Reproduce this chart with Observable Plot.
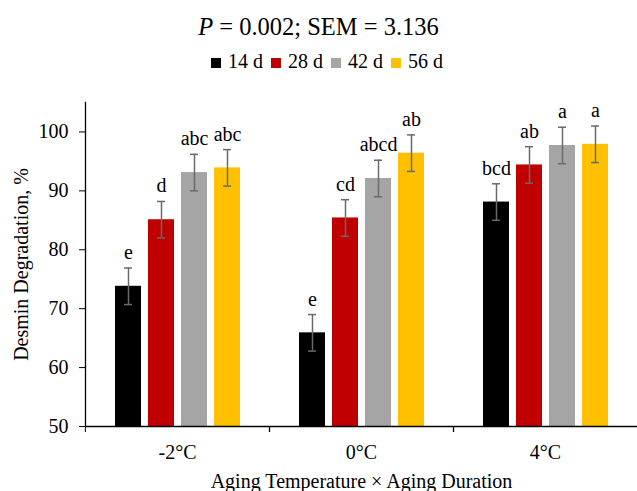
<!DOCTYPE html>
<html>
<head>
<meta charset="utf-8">
<script src="https://cdn.jsdelivr.net/npm/d3@7"></script>
<script src="https://cdn.jsdelivr.net/npm/@observablehq/plot@0.6"></script>
<style>
  body { margin: 0; background: #fff; }
  #wrap { position: relative; width: 637px; height: 491px; font-family: "Liberation Serif", "Times New Roman", serif; color: #000; }
  #title { position: absolute; left: 0; top: 14.5px; width: 637px; text-align: center; font-size: 24.5px; line-height: 1; white-space: nowrap; }
  #legend { position: absolute; left: 211px; top: 51px; font-size: 20px; line-height: 1; white-space: nowrap; }
  #legend .sw { display: inline-block; width: 10px; height: 10px; margin-right: 7px; vertical-align: baseline; }
  #legend .it { margin-right: 8px; }
  #chart { position: absolute; left: 0; top: 0; }
  #chart svg, #chart svg text { font-family: "Liberation Serif", "Times New Roman", serif !important; }
</style>
</head>
<body>
<div id="wrap">
  <div id="chart"></div>
  <div id="title"><i>P</i> = 0.002; SEM = 3.136</div>
  <div id="legend"></div>
</div>
<script>
// ---- data ----
const temperatures = ["-2°C", "0°C", "4°C"];
const durations = ["14 d", "28 d", "42 d", "56 d"];
const colors = ["#000000", "#C00000", "#A5A5A5", "#FFC000"];
const values14 = [73.8, 65.9, 88.1];
const values28 = [85.1, 85.4, 94.4];
const values42 = [93.1, 92.1, 97.7];
const values56 = [93.9, 96.4, 97.9];
const errors14 = [3.1, 3.1, 3.1];
const errors28 = [3.1, 3.1, 3.1];
const errors42 = [3.1, 3.1, 3.1];
const errors56 = [3.1, 3.1, 3.1];
const letters14 = ["e", "e", "bcd"];
const letters28 = ["d", "cd", "ab"];
const letters42 = ["abc", "abcd", "a"];
const letters56 = ["abc", "ab", "a"];
const yTicks = [50, 60, 70, 80, 90, 100];

const valueSets = [values14, values28, values42, values56];
const errorSets = [errors14, errors28, errors42, errors56];
const letterSets = [letters14, letters28, letters42, letters56];
const data = [];
temperatures.forEach((t, i) => {
  durations.forEach((d, j) => {
    data.push({temp: t, dur: d, value: valueSets[j][i], err: errorSets[j][i], letter: letterSets[j][i]});
  });
});

// legend
const leg = document.getElementById("legend");
durations.forEach((d, j) => {
  const s = document.createElement("span");
  s.className = "it";
  s.innerHTML = `<span class="sw" style="background:${colors[j]}"></span>${d}`;
  leg.appendChild(s);
});

const W = 637, H = 491, mL = 84, mR = 0, mT = 102, mB = 65;
const half = (W - mL - mR) / temperatures.length / 2;
const FONT = '"Liberation Serif", "Times New Roman", serif';

const chart = Plot.plot({
  width: W, height: H,
  marginTop: mT, marginBottom: mB, marginLeft: mL, marginRight: mR,
  style: {fontFamily: FONT, fontSize: "20px", color: "#000", background: "transparent", overflow: "visible"},
  fx: {domain: temperatures, padding: 0, axis: null},
  x: {domain: durations, paddingInner: 0.224, paddingOuter: 0.863, axis: null},
  y: {domain: [50, 105], axis: null},
  color: {domain: durations, range: colors},
  marks: [
    Plot.axisY({ticks: yTicks, tickSize: 6, tickPadding: 11, fontSize: 20, stroke: "#000", fontFamily: FONT,
      label: "Desmin Degradation, %", labelAnchor: "center", labelOffset: 72, labelArrow: false}),
    Plot.axisFx({anchor: "bottom", tickSize: 0, tickPadding: 18, fontSize: 20, fontFamily: FONT,
      label: "Aging Temperature × Aging Duration", labelAnchor: "center", labelOffset: 61, labelArrow: false}),
    Plot.axisFx({anchor: "bottom", tickSize: 6, tickFormat: () => "", label: null, dx: half, stroke: "#000"}),
    Plot.axisFx({anchor: "bottom", tickSize: 6, tickFormat: () => "", label: null, dx: -half, stroke: "#000"}),
    Plot.barY(data, {fx: "temp", x: "dur", y1: 50, y2: "value", fill: "dur"}),
    Plot.ruleX(data, {fx: "temp", x: "dur", y1: d => d.value - d.err, y2: d => d.value + d.err, stroke: "#6a6a6a", strokeWidth: 1.5}),
    Plot.tickY(data, {fx: "temp", x: "dur", y: d => d.value + d.err, stroke: "#6a6a6a", strokeWidth: 1.5, insetLeft: 9, insetRight: 9}),
    Plot.tickY(data, {fx: "temp", x: "dur", y: d => d.value - d.err, stroke: "#6a6a6a", strokeWidth: 1.5, insetLeft: 9, insetRight: 9}),
    Plot.text(data, {fx: "temp", x: "dur", y: d => d.value + d.err, text: "letter", lineAnchor: "bottom", dy: -9, fontSize: 20, fontFamily: FONT, fill: "#000"}),
    Plot.ruleY([50], {stroke: "#000", strokeWidth: 1.3}),
    Plot.frame({anchor: "left", facetAnchor: "left", stroke: "#000", strokeWidth: 1.3})
  ]
});
document.getElementById("chart").appendChild(chart);
</script>
</body>
</html>
